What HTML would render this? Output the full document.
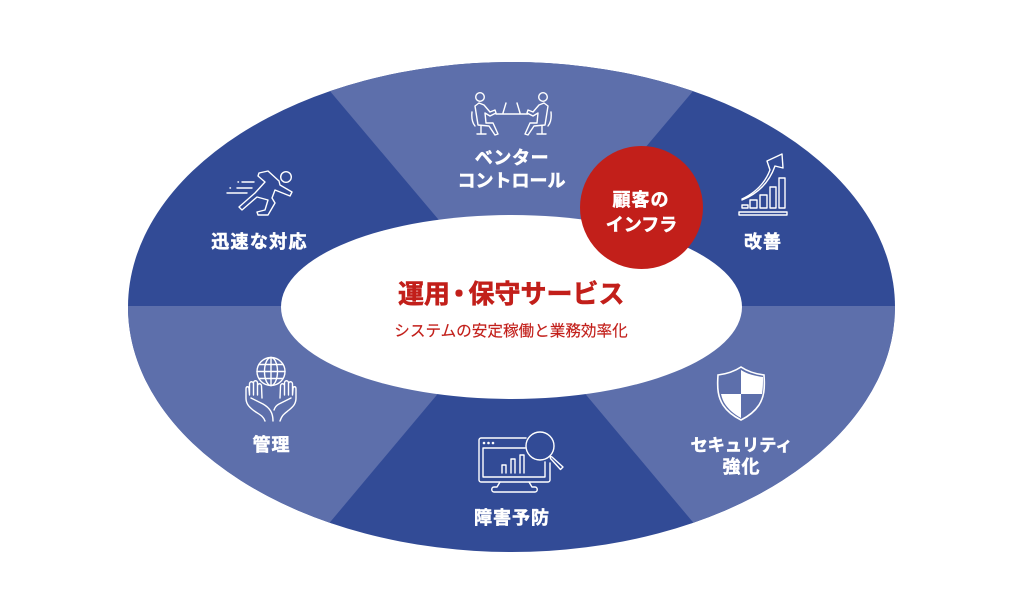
<!DOCTYPE html>
<html lang="ja">
<head>
<meta charset="utf-8">
<style>
html,body{margin:0;padding:0;background:#fff}
svg{display:block}
text{font-family:"Liberation Sans","Noto Sans CJK JP",sans-serif;text-anchor:middle}
.w{fill:#fff;stroke:#fff;stroke-width:.5px;font-weight:700;font-size:18px;letter-spacing:1px}
.i{fill:none;stroke:#fff;stroke-width:1.4;stroke-linecap:round;stroke-linejoin:round}
</style>
</head>
<body>
<svg width="1023" height="614" viewBox="0 0 1023 614" xmlns="http://www.w3.org/2000/svg">
<defs><clipPath id="c"><ellipse cx="511.5" cy="307" rx="383.5" ry="245"/></clipPath></defs>
<ellipse cx="511.5" cy="307" rx="383.5" ry="245" fill="#324b96"/>
<g clip-path="url(#c)" fill="#5d6fab">
<polygon points="511.5,306 253,0 770,0"/>
<polygon points="511.5,306 0,306 0,614 253,614"/>
<polygon points="511.5,306 1023,306 1023,614 770,614"/>
</g>
<ellipse cx="511.5" cy="307" rx="230.5" ry="92" fill="#fff"/>
<circle cx="641.5" cy="207.5" r="61.5" fill="#c21f1a"/>

<!-- meeting icon -->
<g class="i">
<circle cx="480" cy="97" r="4.300"/><circle cx="543" cy="97" r="4.300"/>
<path d="M475 106L479 103L484 105L490 112L495 110L496 113L490 116L485 113L486 123L493 123L498 134L495 135L489 126L478 125z"/>
<path d="M548 106L544 103L539 105L533 112L528 110L527 113L533 116L538 113L537 123L530 123L525 134L528 135L534 126L545 125z"/>
<path d="M472 112q-1 9 3 14M481 126v8M477 134h9"/>
<path d="M551 112q1 9-3 14M542 126v8M546 134h-9"/>
<path d="M496 114h32M503 113l3-10M520 113l-3-10"/>
</g>

<!-- runner icon -->
<g class="i">
<circle cx="286" cy="177" r="5.300"/>
<path d="M259 173L268 171L279 181L280 185L292 192L290 196L275 190L272 198L275 203L268 215L258 215L257 212L265 210L268 200L257 197L242 210L239 207L255 193L265 182L258 176z"/>
<path d="M242 182h12M238 182h.5M237 188h15M230 188h.5M227 193h20"/>
</g>

<!-- chart icon -->
<g class="i">
<rect x="739" y="212" width="48" height="3"/>
<rect x="742" y="205" width="6" height="3"/>
<rect x="750" y="200" width="7" height="8"/>
<rect x="760" y="195" width="7" height="13"/>
<rect x="770" y="187" width="6" height="21"/>
<rect x="779" y="178" width="6" height="30"/>
<path d="M742 199C755 193 765 183 770 170L767 161L782 154L783 168L775 166C769 183 757 194 742 200"/>
</g>

<!-- hands and globe icon -->
<g class="i">
<circle cx="271" cy="371.500" r="14"/>
<ellipse cx="271" cy="371.500" rx="6.500" ry="14"/>
<path d="M271 357.500v28M259 364.500h24M259 378.500h24M257 371.500h28"/>
<path d="M265 421C263 415 258 414 253 410C248 406 246 403 246 398V389c0-3 3-3 3 0l.5 6V384c0-3 4-3 4 0v11V383c0-3 4-3 4 0v12V386c0-3 4-3 4 0l.5 12"/>
<path d="M251 398L263 404C270 408 273 413 273 421"/>
<path d="M280 421C282 415 284 414 289 410C294 406 296 403 296 398V389c0-3-3-3-3 0l-.5 6V384c0-3-4-3-4 0v11V383c0-3-4-3-4 0v12V386c0-3-4-3-4 0l-.5 12"/>
<path d="M291 398L279 404C277 405 275 407 274 410"/>
</g>

<!-- monitor icon -->
<g class="i">
<path d="M526 438h-45c-1 0-2 1-2 2v40c0 1 1 2 2 2h67c1 0 2-1 2-2v-17"/>
<path d="M483 448h42M483 448v29h62v-15"/>
<path d="M500 482l-3 5h-3c-3 0-3 5 0 5h41c3 0 3-5 0-5h-3l-3-5"/>
<path d="M502 473v-8h4v8M511 473v-14h4v14M520 473v-18h4v18"/>
<circle cx="540" cy="446" r="14"/>
<path d="M550 456l2 1 11 10-2.500 2.500-10-11z"/>
<circle cx="484" cy="443" r=".6"/><circle cx="488.5" cy="443" r=".6"/><circle cx="493" cy="443" r=".6"/>
</g>

<!-- shield icon -->
<path d="M741 367c-6 4-15 7-23 8-1 14 0 22 5 30 4 6 10 11 18 15 8-4 14-9 18-15 5-8 6-16 5-30-8-1-17-4-23-8z" fill="none" stroke="#fff" stroke-width="1.600"/>
<path d="M741 394h-20c1 4 2 7 4 10 4 6 9 10 16 14zM741 394h21c1-6 1-11 1-17-8-1-16-3-22-7z" fill="#fff"/>

<text class="w" x="512" y="164" style="letter-spacing:.6px">ベンター</text>
<text class="w" x="511.5" y="187" style="letter-spacing:0">コントロール</text>
<text class="w" x="259.5" y="248" style="letter-spacing:1.3px">迅速な対応</text>
<text class="w" x="763" y="248">改善</text>
<text class="w" x="271.5" y="451">管理</text>
<text class="w" x="512" y="524">障害予防</text>
<text class="w" x="741.5" y="451" style="font-size:17.2px;letter-spacing:0">セキュリティ</text>
<text class="w" x="741.5" y="473">強化</text>
<text class="w" x="641" y="206">顧客の</text>
<text class="w" x="641.5" y="231" style="letter-spacing:0">インフラ</text>
<text y="303" fill="#c21f1a" stroke="#c21f1a" stroke-width=".6" font-size="26" font-weight="700" style="text-anchor:start"><tspan x="398">運用</tspan><tspan x="446">・</tspan><tspan x="468.500">保守サービス</tspan></text>
<text x="511" y="336" fill="#c21f1a" stroke="#c21f1a" stroke-width=".15" font-size="15.6">システムの安定稼働と業務効率化</text>
</svg>
</body>
</html>
